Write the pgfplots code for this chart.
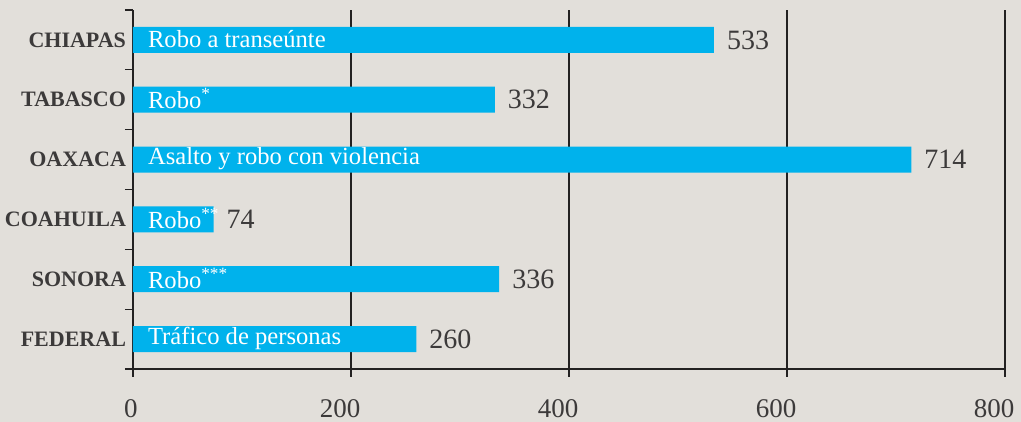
\documentclass[border=0pt]{standalone}
\usepackage{pgfplots}
\pgfplotsset{compat=1.18}
\usepackage{fontspec}
\setmainfont{Liberation Serif}
\usetikzlibrary{backgrounds,calc}
\definecolor{bg}{RGB}{226,223,218}
\definecolor{barcyan}{RGB}{0,178,236}
\definecolor{txt}{RGB}{60,58,58}
\definecolor{rule}{RGB}{35,33,33}

\begin{document}
\begin{tikzpicture}
\begin{axis}[
    name=ax,
    xbar,
    scale only axis,
    width=436pt, height=179.5pt,
    xmin=0, xmax=800,
    ymin=-0.5, ymax=5.5,
    axis x line*=bottom,
    axis y line*=left,
    axis line style={-, draw=rule, line width=0.65pt},
    tick style={draw=rule, line width=0.65pt},
    tick align=outside,
    major tick length=4pt,
    xtick={200,400,...,800},
    extra x ticks={0},
    extra x tick style={xticklabel style={xshift=4.5pt}},
    ytick={-0.5,0.5,...,5.5},
    yticklabels={},
    extra y ticks={0,1,2,3,4,5},
    extra y tick labels={FEDERAL,SONORA,COAHUILA,OAXACA,TABASCO,CHIAPAS},
    extra y tick style={major tick length=0pt,
        yticklabel style={font=\bfseries\fontsize{11}{13}\selectfont, text=txt, xshift=0pt}},
    xmajorgrids,
    grid style={draw=rule, line width=0.65pt},
    xticklabel style={font=\fontsize{13.5}{16}\selectfont, text=txt, yshift=-7.5pt, xshift=-5.5pt},
    /pgf/number format/assume math mode=true,
    bar width=13pt,
    bar shift=0pt,
    point meta=x,
    nodes near coords,
    nodes near coords style={font=\fontsize{14}{16}\selectfont, text=txt, anchor=west, xshift=3pt, yshift=0pt},
    clip=false,
]
\addplot[fill=barcyan, draw=none] coordinates {
    (533,5)
    (332,4)
    (714,3)
    (74,2)
    (336,1)
    (260,0)
};
\tikzset{inlabel/.style={anchor=west, text=white, font=\fontsize{12.3}{14}\selectfont, xshift=4pt, yshift=0.5pt}}
\node[inlabel] at (axis cs:0,5) {Robo a transeúnte};
\node[inlabel] at (axis cs:0,4) {Robo\textsuperscript{*}};
\node[inlabel] at (axis cs:0,3) {Asalto y robo con violencia};
\node[inlabel] at (axis cs:0,2) {Robo\textsuperscript{**}};
\node[inlabel] at (axis cs:0,1) {Robo\textsuperscript{***}};
\node[inlabel] at (axis cs:0,0) {Tráfico de personas};
\end{axis}
\begin{pgfonlayer}{background}
\fill[bg] ($(ax.south west)+(-66.5pt,-26.5pt)$) rectangle ($(ax.north east)+(8pt,5pt)$);
\end{pgfonlayer}
\pgfresetboundingbox
\path ($(ax.south west)+(-66.5pt,-26.5pt)$) rectangle ($(ax.north east)+(8pt,5pt)$);
\end{tikzpicture}
\end{document}
